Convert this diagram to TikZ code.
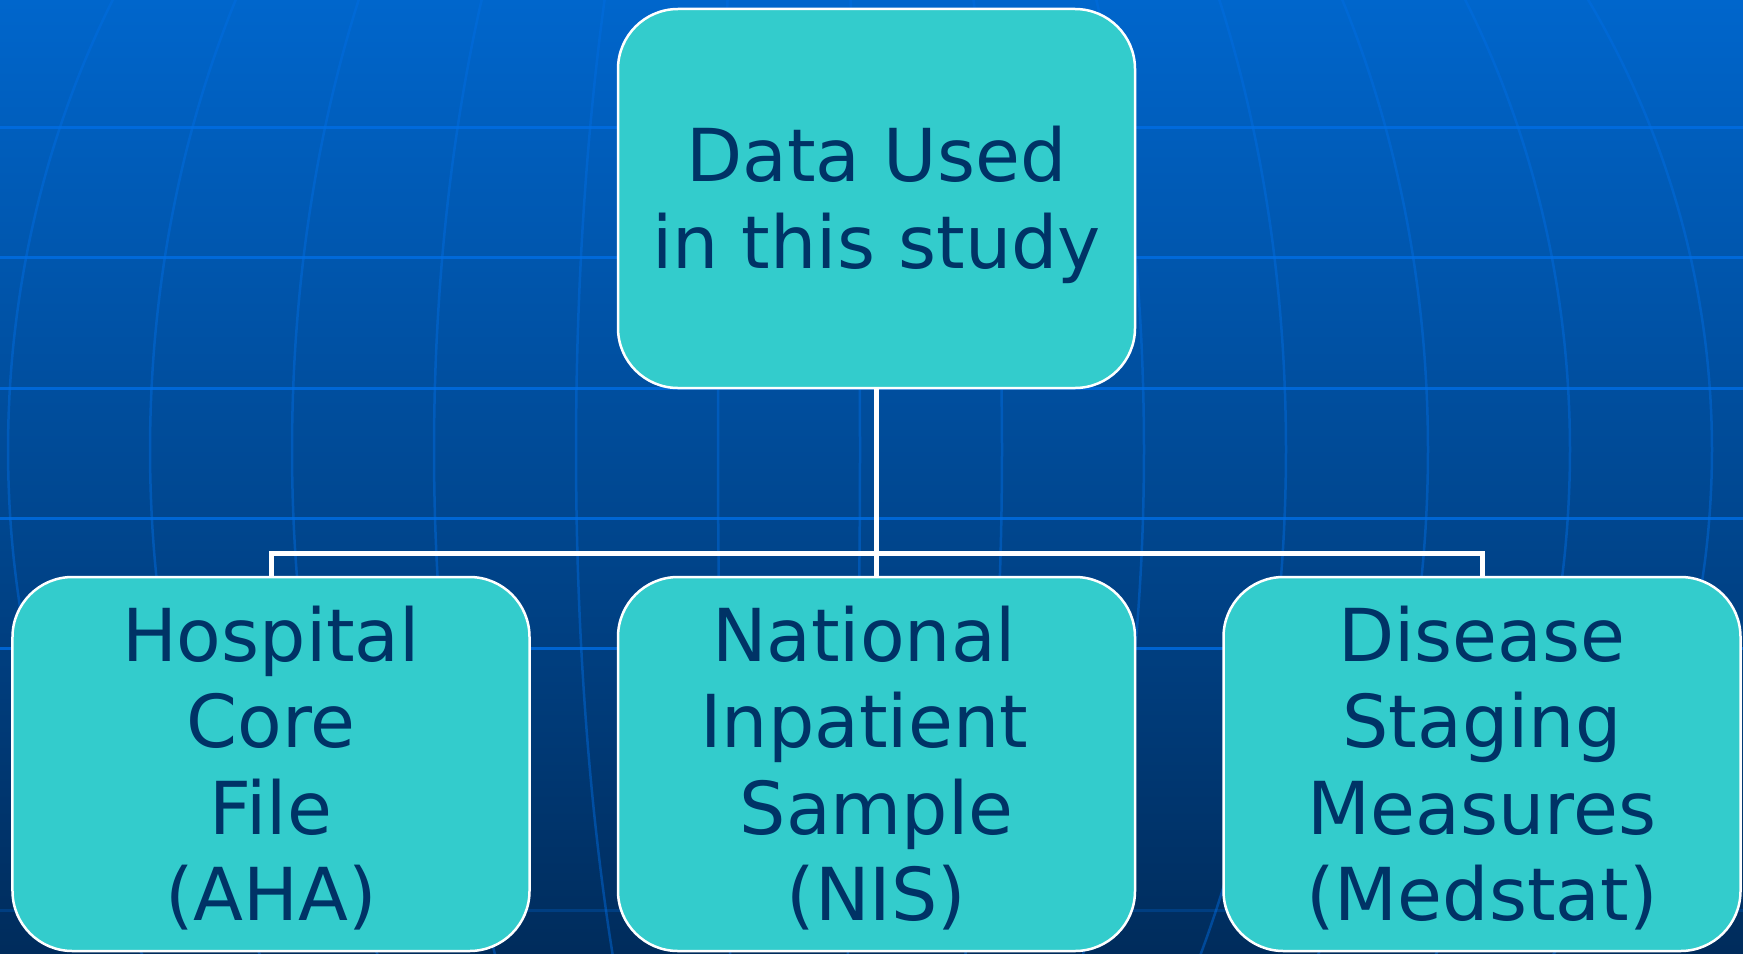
\documentclass[tikz,border=0pt]{standalone}
\usepackage{fontspec}
\setmainfont{DejaVu Sans}
\usetikzlibrary{calc}

\definecolor{boxfill}{RGB}{51,204,204}
\definecolor{textnavy}{RGB}{0,51,102}
\definecolor{skytop}{RGB}{0,102,204}
\definecolor{skymid}{RGB}{0,78,158}
\definecolor{skybot}{RGB}{0,44,92}
\definecolor{gridblue}{RGB}{0,110,228}

% invisible strut that sets the height of a box's first text line
\newcommand\firstlinepad[1]{\rule{0pt}{#1}}

\pgfdeclarelayer{backdrop}
\pgfdeclarelayer{links}
\pgfsetlayers{backdrop,links,main}

\begin{document}
\begin{tikzpicture}[x=1bp,y=-1bp,
  box/.style={draw=white, line width=2.5bp, fill=boxfill, rounded corners=60bp,
    minimum width=517bp, inner sep=0pt, align=center, text=textnavy,
    font=\fontsize{73bp}{86.5bp}\selectfont},
  link/.style={draw=white, line width=5bp},
  latitude/.style={draw=gridblue, line width=3bp, opacity=0.8},
  meridian/.style={draw=gridblue, line width=2.5bp, opacity=0.45}]
\useasboundingbox (0,0) rectangle (1743,953);

% boxes
\node[box, minimum height=379bp] (src) at (876.5,198.5)
  {\firstlinepad{68.5bp}Data Used\\in this study};
\node[box, minimum height=374bp] (aha) at (271,764)
  {\firstlinepad{63.5bp}Hospital\\Core\\File\\(AHA)};
\node[box, minimum height=374bp] (nis) at (876.5,764)
  {\firstlinepad{63.5bp}National\kern.34em\\Inpatient\kern.34em\\Sample\\(NIS)};
\node[box, minimum height=374bp] (med) at (1482,764)
  {\firstlinepad{63.5bp}Disease\\Staging\\Measures\\(Medstat)};

% tree connectors
\coordinate (bus) at (876.5,553);
\begin{pgfonlayer}{links}
  \draw[link] (src.south) -- (nis.north);
  \draw[link] (aha.north) |- (bus) -| (med.north);
\end{pgfonlayer}

% globe backdrop
\begin{pgfonlayer}{backdrop}
  \shade[top color=skytop, middle color=skymid, bottom color=skybot] (0,0) rectangle (1743,953);
  \begin{scope}
    \clip (0,0) rectangle (1743,953);
    \foreach \a in {-781,-639,-497,-355,-213,-71,71,213,355,497,639,781,923}
      \draw[meridian] plot[domain=-31:36, samples=40, smooth]
        ({789+\a*cos(\x)},{450+900*sin(\x)});
    \foreach \y in {127,257,388,518,648}
      \draw[latitude] (0,\y) -- (1743,\y);
    \draw[latitude, opacity=0.25] (0,910) -- (1743,910);
  \end{scope}
\end{pgfonlayer}
\end{tikzpicture}
\end{document}
